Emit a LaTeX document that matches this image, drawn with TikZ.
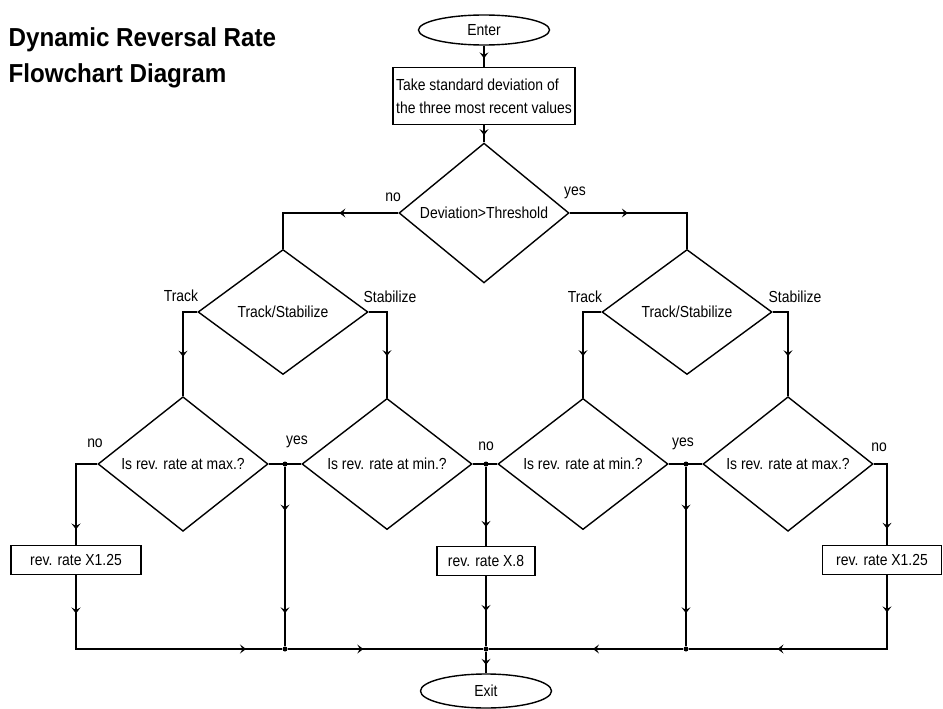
\documentclass[tikz,border=0pt]{standalone}
\usepackage{fontspec}
\setmainfont{Liberation Sans}[FakeStretch=0.87]
\newfontfamily\titlefont{Liberation Sans}[FakeStretch=0.93]
\usetikzlibrary{shapes,arrows.meta,positioning,calc,decorations.markings}

\begin{document}
\begin{tikzpicture}[
    x=1pt, y=-1pt,
    line width=1.4pt,
    font=\fontsize{16}{23}\selectfont,
    >={Stealth[length=6pt,width=9pt,inset=2.5pt]},
    heading/.style={anchor=base west, inner sep=0pt,
                    font=\titlefont\fontsize{26}{30}\selectfont\bfseries},
    term/.style={ellipse, draw, minimum width=131pt, minimum height=30pt, inner sep=0pt},
    block/.style={rectangle, draw, minimum height=29pt, inner sep=2pt},
    decision/.style={diamond, draw, minimum width=170pt, minimum height=125pt, inner sep=0pt},
    joint/.style={circle, fill, inner sep=0pt, minimum size=5pt},
    midtip/.style={postaction={decorate, decoration={markings,
                   mark=at position #1 with {\arrow{>}}}}},
  ]
    \useasboundingbox (0,0) rectangle (943,709);

    % Title
    \node[heading] (title1) at (8,47) {Dynamic Reversal Rate};
    \node[heading] (title2) at (8,83) {Flowchart Diagram};

    % Top
    \node[term] (enter) at (484,30) {Enter};
    \node[block, minimum width=182pt, minimum height=57pt, align=left] (stdev) at (484,96)
         {Take standard deviation of\\the three most recent values};
    \node[decision] (dev) at (484,213) {Deviation>Threshold};

    % Track/Stabilize
    \node[decision] (tsno) at (283,312) {Track/Stabilize};
    \node[decision] (tsyes) at (687,312) {Track/Stabilize};

    % Rate checks
    \node[decision] (maxno) at (183,464) {Is rev. rate at max.?};
    \node[decision] (minno) at (387,464) {Is rev. rate at min.?};
    \node[decision] (minyes) at (583,464) {Is rev. rate at min.?};
    \node[decision] (maxyes) at (788,464) {Is rev. rate at max.?};

    % Junctions
    \node[joint] (j1) at (285,464) {};
    \node[joint] (j2) at (486,464) {};
    \node[joint] (j3) at (686,464) {};
    \node[joint] (j4) at (285,649) {};
    \node[joint] (j5) at (486,649) {};
    \node[joint] (j6) at (686,649) {};

    % Rate changes
    \node[block, minimum width=130pt] (upl) at (76,560) {rev. rate X1.25};
    \node[block, minimum width=98pt] (down) at (486,561) {rev. rate X.8};
    \node[block, minimum width=119pt] (upr) at (882,560) {rev. rate X1.25};
    \node[term, minimum height=34pt] (exit) at (486,691) {Exit};

    % Arrows
    \draw[midtip=0.6] (enter) -- (stdev);
    \draw[midtip=0.58] (stdev) -- (dev);
    \draw[midtip=0.39] (dev.west) -| (tsno.north);
    \draw[midtip=0.38] (dev.east) -| (tsyes.north);
    \draw[midtip=0.6] (tsno.west) -| (maxno.north);
    \draw[midtip=0.6] (tsno.east) -| (minno.north);
    \draw[midtip=0.6] (tsyes.west) -| (minyes.north);
    \draw[midtip=0.6] (tsyes.east) -| (maxyes.north);
    \draw[midtip=0.85] (maxno.west) -| (upl.north);
    \draw[midtip=0.83] (maxyes.east) -| ([xshift=5pt]upr.north);
    \draw (maxno.east) -- (minno.west);
    \draw (minno.east) -- (minyes.west);
    \draw (minyes.east) -- (maxyes.west);
    \draw[midtip=0.243, midtip=0.818] (j1) -- (j4);
    \draw[midtip=0.76] (j2) -- (down);
    \draw[midtip=0.243, midtip=0.818] (j3) -- (j6);
    \draw[midtip=0.137, midtip=0.872] (upl) |- (j4);
    \draw[midtip=0.386] (j4) -- (j5);
    \draw[midtip=0.5] (down) -- (j5);
    \draw[midtip=0.6] (j5) -- (exit);
    \draw[midtip=0.137, midtip=0.675] ([xshift=5pt]upr.south) |- (j6);
    \draw[midtip=0.464] (j6) -- (j5);

    % Labels
    \node (devno) at (393,197) {no};
    \node (devyes) at (575,193) {yes};
    \node (trackl) at (181,296) {Track};
    \node (stabl) at (390,297) {Stabilize};
    \node (trackr) at (585,297) {Track};
    \node (stabr) at (795,297) {Stabilize};
    \node (maxlno) at (95,443) {no};
    \node (lyes) at (297,442) {yes};
    \node (midno) at (486,446) {no};
    \node (ryes) at (683,444) {yes};
    \node (maxrno) at (879,447) {no};
  \end{tikzpicture}
\end{document}
